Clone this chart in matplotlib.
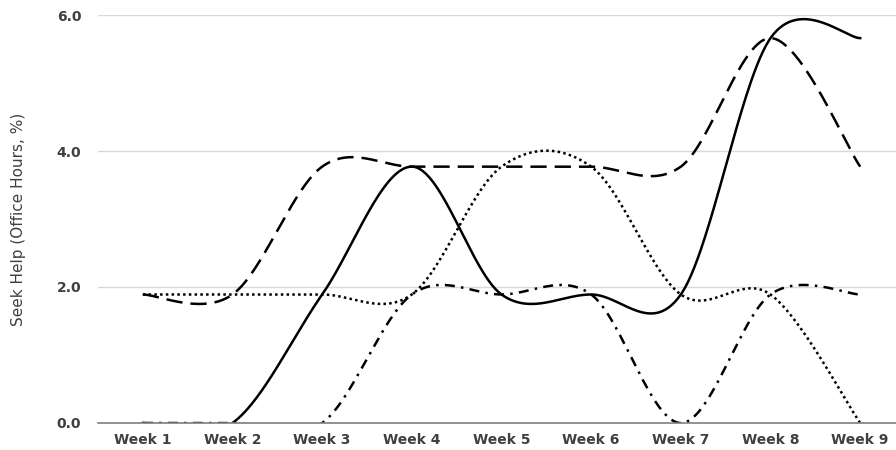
import numpy as np
import matplotlib
matplotlib.use("Agg")
import matplotlib.pyplot as plt

weeks = ["Week 1", "Week 2", "Week 3", "Week 4", "Week 5", "Week 6", "Week 7", "Week 8", "Week 9"]
solid_vals = [0, 0, 1.89, 3.77, 1.89, 1.89, 1.89, 5.66, 5.66]
dashed_vals = [1.89, 1.89, 3.77, 3.77, 3.77, 3.77, 3.77, 5.66, 3.77]
dotted_vals = [1.89, 1.89, 1.89, 1.89, 3.77, 3.77, 1.89, 1.89, 0]
dashdot_vals = [0, 0, 0, 1.89, 1.89, 1.89, 0, 1.89, 1.89]
y_ticks = [0, 2, 4, 6]
y_label = "Seek Help (Office Hours, %)"


def smooth(xs, ys, n=60):
    xs = np.asarray(xs, float)
    ys = np.asarray(ys, float)
    px = np.concatenate([[xs[0]], xs, [xs[-1]]])
    py = np.concatenate([[ys[0]], ys, [ys[-1]]])
    ox, oy = [], []
    t = np.linspace(0, 1, n)
    for i in range(1, len(px) - 2):
        p0x, p1x, p2x, p3x = px[i - 1], px[i], px[i + 1], px[i + 2]
        p0y, p1y, p2y, p3y = py[i - 1], py[i], py[i + 1], py[i + 2]
        c1x = p1x + (p2x - p0x) / 6
        c1y = p1y + (p2y - p0y) / 6
        c2x = p2x - (p3x - p1x) / 6
        c2y = p2y - (p3y - p1y) / 6
        bx = (1 - t) ** 3 * p1x + 3 * (1 - t) ** 2 * t * c1x + 3 * (1 - t) * t ** 2 * c2x + t ** 3 * p2x
        by = (1 - t) ** 3 * p1y + 3 * (1 - t) ** 2 * t * c1y + 3 * (1 - t) * t ** 2 * c2y + t ** 3 * p2y
        ox.extend(bx)
        oy.extend(by)
    return np.array(ox), np.array(oy)


fig = plt.figure(figsize=(8.96, 4.5), dpi=100)
ax = fig.add_axes([98 / 896, 27 / 450, 807 / 896, 408 / 450])

x = np.arange(len(weeks))
styles = [
    (solid_vals, dict(linestyle="-")),
    (dashed_vals, dict(linestyle=(0, (6.5, 3.2)))),
    (dotted_vals, dict(linestyle=(0, (1, 1.3)))),
    (dashdot_vals, dict(linestyle=(0, (4, 2.5, 1, 2.5)))),
]
for vals, st in styles:
    sx, sy = smooth(x, vals)
    ax.plot(sx, sy, color="black", linewidth=1.8, **st)

ax.set_xlim(-0.5, len(weeks) - 0.5)
ax.set_ylim(0, 6)
ax.set_yticks(y_ticks)
ax.set_yticklabels([f"{v:.1f}" for v in y_ticks])
ax.set_xticks(x)
ax.set_xticklabels(weeks)
ax.grid(axis="y", color="#d9d9d9", linewidth=1)
ax.set_axisbelow(True)
for s in ["top", "right", "left"]:
    ax.spines[s].set_visible(False)
ax.spines["bottom"].set_color("#7f7f7f")
ax.spines["bottom"].set_linewidth(1.2)
ax.tick_params(length=0, colors="#404040", labelsize=10)
for lbl in ax.get_xticklabels() + ax.get_yticklabels():
    lbl.set_fontweight("bold")
ax.tick_params(axis="y", pad=12)
ax.tick_params(axis="x", pad=7)
ax.set_ylabel(y_label, color="#404040", fontsize=11)
ax.yaxis.set_label_coords(-0.089, 0.5)

fig.savefig("out.png", dpi=100)
